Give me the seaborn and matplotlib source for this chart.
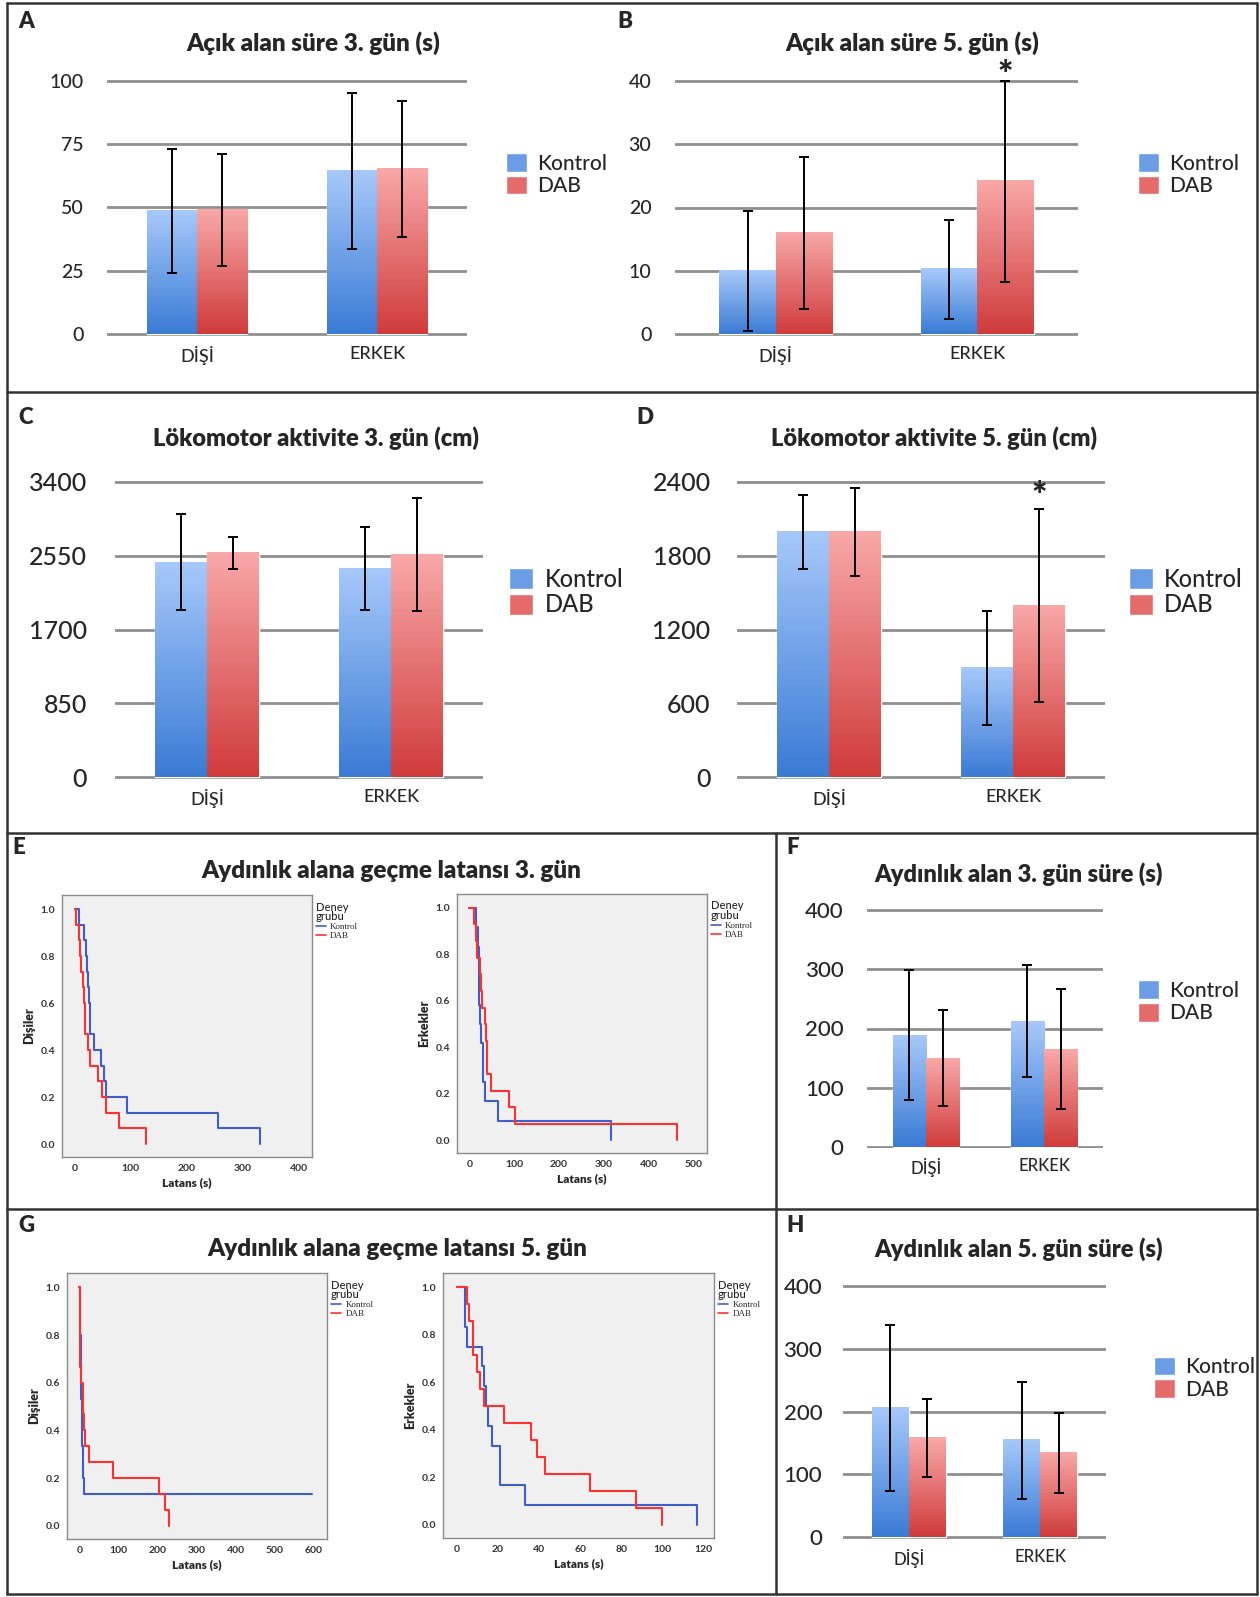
import numpy as np
import pandas as pd
import matplotlib
matplotlib.use("Agg")
import matplotlib.pyplot as plt
from matplotlib.colors import LinearSegmentedColormap
from matplotlib.lines import Line2D
from matplotlib.patches import Patch
import seaborn as sns

W, H = 1260, 1597

# ---- veriler (bar grafikleri: ortalama ve hata çubuğu) ----
CINS = ["DİŞİ", "ERKEK"]
GRUP = ["Kontrol", "DAB"]

A_KONTROL, A_KONTROL_SD = [48.6, 64.3], [24.5, 30.6]
A_DAB, A_DAB_SD = [49.1, 65.2], [22.1, 26.8]

B_KONTROL, B_KONTROL_SD = [10.0, 10.3], [9.5, 7.8]
B_DAB, B_DAB_SD = [16.0, 24.1], [12.0, 15.8]

C_KONTROL, C_KONTROL_SD = [2474, 2404], [555, 480]
C_DAB, C_DAB_SD = [2578, 2560], [185, 650]

D_KONTROL, D_KONTROL_SD = [1991, 889], [300, 461]
D_DAB, D_DAB_SD = [1991, 1395], [360, 783]

F_KONTROL, F_KONTROL_SD = [189, 213], [110, 95]
F_DAB, F_DAB_SD = [150, 165], [81, 102]

H_KONTROL, H_KONTROL_SD = [206, 154], [132, 93]
H_DAB, H_DAB_SD = [158, 134], [62, 63]

# ---- Kaplan-Meier eğrileri (zaman, sağkalım) ----
E_DISI_K_T = [0, 7, 17, 20, 22, 24, 26, 28, 34, 47, 53, 56, 93, 256, 332]
E_DISI_K_S = [1.0, .933, .867, .8, .733, .667, .6, .467, .4, .333, .267, .2, .133, .067, 0.0]
E_DISI_D_T = [0, 2, 8, 9, 11, 15, 17, 19, 24, 28, 41, 48, 56, 79, 127]
E_DISI_D_S = [1.0, .933, .867, .8, .733, .667, .6, .467, .4, .333, .267, .2, .133, .067, 0.0]

E_ERKEK_K_T = [0, 15, 19, 21, 22, 24, 27, 31, 34, 65, 316]
E_ERKEK_K_S = [1.0, .917, .833, .667, .583, .5, .417, .25, .167, .083, 0.0]
E_ERKEK_D_T = [0, 10, 14, 16, 24, 26, 29, 34, 37, 39, 40, 49, 89, 102, 464]
E_ERKEK_D_S = [1.0, .929, .857, .786, .714, .643, .571, .5, .429, .357, .286, .214, .143, .071, 0.0]

G_DISI_K_T = [0, 1, 2, 3, 4, 5, 6, 7, 8, 11, 595]
G_DISI_K_S = [1.0, .867, .8, .667, .6, .533, .467, .333, .2, .133, .133]
G_DISI_D_T = [0, 2, 5, 8, 9, 12, 15, 25, 86, 203, 218, 229]
G_DISI_D_S = [1.0, .667, .6, .533, .467, .4, .333, .267, .2, .133, .067, 0.0]

G_ERKEK_K_T = [0, 4, 5, 12, 13, 14, 15, 17, 21, 33, 117]
G_ERKEK_K_S = [1.0, .833, .75, .667, .583, .5, .417, .333, .167, .083, 0.0]
G_ERKEK_D_T = [0, 5, 6, 8, 10, 11, 13, 23, 36, 39, 43, 65, 87, 100]
G_ERKEK_D_S = [1.0, .929, .857, .714, .643, .571, .5, .429, .357, .286, .214, .143, .071, 0.0]

# ---- stil ----
sns.set_style("white")
plt.rcParams["font.family"] = ["Lato", "DejaVu Sans"]

MAVI, KIRMIZI = "#6b9de6", "#e56b6b"
CMAP_MAVI = LinearSegmentedColormap.from_list("mavi", ["#3a7bd5", "#a7c9fa"])
CMAP_KIRMIZI = LinearSegmentedColormap.from_list("kirmizi", ["#d03b3b", "#f9a8a8"])
GRAD = np.linspace(0, 1, 256).reshape(-1, 1)
KM_MAVI, KM_KIRMIZI = "#3f5fc8", "#ff3030"


def rect(l, t, r, b):
    return [l / W, 1 - b / H, (r - l) / W, (b - t) / H]


def bar_panel(fig, box, kontrol, kontrol_sd, dab, dab_sd, yticks, tick_fs,
              xtick_fs, leg_anchor, leg_fs, ypad, star=None):
    ax = fig.add_axes(rect(*box))
    df = pd.DataFrame({
        "cins": CINS * 2,
        "grup": ["Kontrol"] * 2 + ["DAB"] * 2,
        "deger": kontrol + dab,
    })
    sns.barplot(data=df, x="cins", y="deger", hue="grup", hue_order=GRUP,
                palette=[MAVI, KIRMIZI], width=0.56, errorbar=None,
                legend=False, ax=ax, zorder=2)
    top = None
    for cont, cmap, sd in zip(ax.containers, [CMAP_MAVI, CMAP_KIRMIZI],
                              [kontrol_sd, dab_sd]):
        for bar, s in zip(cont, sd):
            x0, w, h = bar.get_x(), bar.get_width(), bar.get_height()
            ax.imshow(GRAD, cmap=cmap, origin="lower", aspect="auto",
                      extent=[x0, x0 + w, 0, h], zorder=3)
            ax.errorbar(x0 + w / 2, h, yerr=s, fmt="none", ecolor="black",
                        elinewidth=1.4, capsize=3.5, capthick=1.4, zorder=4)
            top = (x0 + w / 2, h + s)
    if star is not None:
        ax.annotate("*", top, xytext=(0, star), textcoords="offset points",
                    ha="center", va="bottom", fontsize=26, fontweight="heavy",
                    annotation_clip=False)
    ymax = yticks[-1]
    ax.set_xlim(-0.5, 1.5)
    ax.set_ylim(-0.006 * ymax, ymax * 1.006)
    ax.set_yticks(yticks)
    ax.set_yticklabels([str(t) for t in yticks])
    ax.yaxis.grid(True, color="#8f8f8f", lw=2)
    ax.xaxis.grid(False)
    ax.set_axisbelow(True)
    sns.despine(ax=ax, left=True, bottom=True)
    ax.tick_params(axis="y", length=0, pad=ypad, labelsize=tick_fs)
    ax.tick_params(axis="x", length=0, pad=7, labelsize=xtick_fs)
    for lab in ax.get_xticklabels() + ax.get_yticklabels():
        lab.set_fontweight("medium")
    ax.set_xlabel("")
    ax.set_ylabel("")
    handles = [Patch(facecolor=MAVI), Patch(facecolor=KIRMIZI)]
    ax.legend(handles, GRUP, loc="center left", bbox_to_anchor=leg_anchor,
              frameon=False, prop={"size": leg_fs, "weight": "medium"},
              handlelength=1.0, handleheight=1.0, handletextpad=0.5,
              labelspacing=0.1, borderpad=0, borderaxespad=0)
    return ax


def km_panel(fig, box, xlim, xticks, ylabel, k_t, k_s, d_t, d_s):
    ax = fig.add_axes(rect(*box))
    ax.set_facecolor("#f0f0f0")
    sns.lineplot(x=k_t, y=k_s, drawstyle="steps-post", estimator=None,
                 sort=False, color=KM_MAVI, lw=1.5, ax=ax)
    sns.lineplot(x=d_t, y=d_s, drawstyle="steps-post", estimator=None,
                 sort=False, color=KM_KIRMIZI, lw=1.5, ax=ax)
    ax.set_xlim(*xlim)
    ax.set_ylim(-0.055, 1.06)
    ax.set_xticks(xticks)
    ax.set_yticks([0, 0.2, 0.4, 0.6, 0.8, 1.0])
    ax.set_yticklabels(["0.0", "0.2", "0.4", "0.6", "0.8", "1.0"])
    for sp in ax.spines.values():
        sp.set_color("#8a8a8a")
        sp.set_linewidth(1.0)
    ax.tick_params(direction="out", length=3, width=0.8, color="#555555",
                   labelsize=7.5, labelcolor="#333333", pad=2)
    for lab in ax.get_xticklabels() + ax.get_yticklabels():
        lab.set_fontweight("bold")
    ax.set_xlabel("Latans (s)", fontsize=8.5, fontweight="heavy", labelpad=3)
    ax.set_ylabel(ylabel, fontsize=9, fontweight="heavy", labelpad=4)
    handles = [Line2D([], [], color=KM_MAVI, lw=1.2, drawstyle="steps-mid"),
               Line2D([], [], color=KM_KIRMIZI, lw=1.2, drawstyle="steps-mid")]
    leg = ax.legend(handles, GRUP, loc="upper left", bbox_to_anchor=(1.015, 0.975),
                    frameon=False, title="Deney\ngrubu", alignment="left",
                    prop={"family": "Liberation Serif", "size": 6.5},
                    title_fontsize=8, handlelength=1.1, handletextpad=0.5,
                    labelspacing=0.05, borderpad=0, borderaxespad=0)
    leg.get_title().set_linespacing(0.85)
    leg.get_title().set_fontweight("medium")
    return ax


fig = plt.figure(figsize=(W / 100, H / 100), dpi=100)

# A, B
bar_panel(fig, (107, 79, 467, 336), A_KONTROL, A_KONTROL_SD, A_DAB, A_DAB_SD,
          [0, 25, 50, 75, 100], 14, 13, (1.108, 0.628), 15, 17)
bar_panel(fig, (675, 79, 1078, 336), B_KONTROL, B_KONTROL_SD, B_DAB, B_DAB_SD,
          [0, 10, 20, 30, 40], 14, 13, (1.149, 0.628), 15, 17, star=-8)
# C, D
bar_panel(fig, (115, 480, 483, 779), C_KONTROL, C_KONTROL_SD, C_DAB, C_DAB_SD,
          [0, 850, 1700, 2550, 3400], 18, 13, (1.071, 0.625), 17, 20)
bar_panel(fig, (737, 480, 1105, 779), D_KONTROL, D_KONTROL_SD, D_DAB, D_DAB_SD,
          [0, 600, 1200, 1800, 2400], 18, 13, (1.065, 0.625), 17, 19, star=-3)
# F, H
bar_panel(fig, (867, 909, 1103, 1148), F_KONTROL, F_KONTROL_SD, F_DAB, F_DAB_SD,
          [0, 100, 200, 300, 400], 16, 12, (1.148, 0.611), 15, 17)
bar_panel(fig, (843, 1284, 1106, 1539), H_KONTROL, H_KONTROL_SD, H_DAB, H_DAB_SD,
          [0, 100, 200, 300, 400], 16, 12, (1.183, 0.631), 15, 15)

# E, G (Kaplan-Meier)
km_panel(fig, (62, 895, 312, 1157), (-22.6, 424), [0, 100, 200, 300, 400],
         "Dişiler", E_DISI_K_T, E_DISI_K_S, E_DISI_D_T, E_DISI_D_S)
km_panel(fig, (457, 894, 707, 1153), (-27.5, 530), [0, 100, 200, 300, 400, 500],
         "Erkekler", E_ERKEK_K_T, E_ERKEK_K_S, E_ERKEK_D_T, E_ERKEK_D_S)
km_panel(fig, (67, 1273, 327, 1539), (-32, 634), [0, 100, 200, 300, 400, 500, 600],
         "Dişiler", G_DISI_K_T, G_DISI_K_S, G_DISI_D_T, G_DISI_D_S)
km_panel(fig, (443, 1273, 714, 1538), (-6.8, 125.2), [0, 20, 40, 60, 80, 100, 120],
         "Erkekler", G_ERKEK_K_T, G_ERKEK_K_S, G_ERKEK_D_T, G_ERKEK_D_S)


def ftext(x, y, s, size, ha="center"):
    fig.text(x / W, 1 - y / H, s, ha=ha, va="center", fontsize=size,
             fontweight="heavy")


# başlıklar
ftext(313, 43, "Açık alan süre 3. gün (s)", 17.5)
ftext(912, 43, "Açık alan süre 5. gün (s)", 17.5)
ftext(316, 438, "Lökomotor aktivite 3. gün (cm)", 17)
ftext(934, 438, "Lökomotor aktivite 5. gün (cm)", 17)
ftext(391, 871, "Aydınlık alana geçme latansı 3. gün", 17.5)
ftext(1019, 874, "Aydınlık alan 3. gün süre (s)", 17)
ftext(397, 1249, "Aydınlık alana geçme latansı 5. gün", 17.5)
ftext(1019, 1249, "Aydınlık alan 5. gün süre (s)", 17)

# panel harfleri
for harf, x, y in [("A", 18, 21), ("B", 617, 21), ("C", 18, 417), ("D", 636, 417),
                   ("E", 12, 848), ("F", 786, 848), ("G", 18, 1226), ("H", 786, 1226)]:
    ftext(x, y, harf, 16, ha="left")


# çerçeve çizgileri
def fline(x0, y0, x1, y1):
    fig.add_artist(Line2D([x0 / W, x1 / W], [1 - y0 / H, 1 - y1 / H],
                          color="#333333", lw=1.8, transform=fig.transFigure))


fline(7, 3, 1257, 3)
fline(7, 1594, 1257, 1594)
fline(7, 3, 7, 1594)
fline(1257, 3, 1257, 1594)
fline(7, 392, 1257, 392)
fline(7, 833, 1257, 833)
fline(7, 1209, 1257, 1209)
fline(776, 833, 776, 1594)

fig.savefig("out.png", dpi=100)
